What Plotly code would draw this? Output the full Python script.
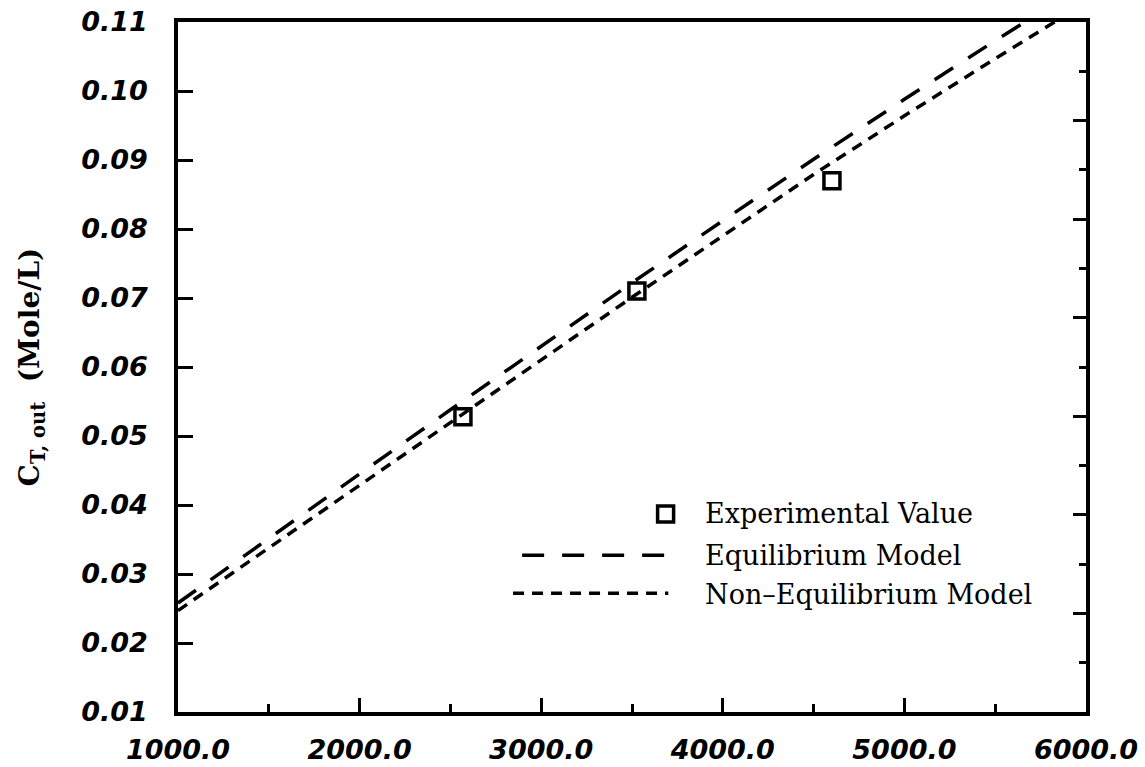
import plotly.graph_objects as go

# Total flow (x) versus outlet concentration C_T,out
flow = [1000, 1500, 2000, 2500, 3000, 3500, 4000, 4500, 5000, 5500, 6000]
equilibrium = [0.0258, 0.0352, 0.0445, 0.0538, 0.0630, 0.0722, 0.0812, 0.0901, 0.0988, 0.1073, 0.1155]
non_equilibrium = [0.0247, 0.0338, 0.0429, 0.0520, 0.0611, 0.0701, 0.0790, 0.0879, 0.0964, 0.1047, 0.1128]

exp_flow = [2569, 3527, 4601]
exp_conc = [0.0528, 0.0710, 0.0870]

x_ticks = [1000, 2000, 3000, 4000, 5000, 6000]
x_tick_text = ["1000.0", "2000.0", "3000.0", "4000.0", "5000.0", "6000.0"]
y_ticks = [0.01, 0.02, 0.03, 0.04, 0.05, 0.06, 0.07, 0.08, 0.09, 0.10, 0.11]
y_tick_text = ["0.01", "0.02", "0.03", "0.04", "0.05", "0.06", "0.07", "0.08", "0.09", "0.10", "0.11"]

legend_names = ["Experimental Value", "Equilibrium Model", "Non\u2013Equilibrium Model"]

tick_font = dict(family="DejaVu Sans", size=27, color="black", weight="bold", style="italic")
serif = "DejaVu Serif"

square = dict(symbol="square-open", size=16, color="black", line=dict(width=3.5, color="black"))
eq_line = dict(color="black", width=3.5, dash="22px,18px")
neq_line = dict(color="black", width=3.5, dash="11px,8px")

fig = go.Figure()

fig.add_trace(go.Scatter(x=exp_flow, y=exp_conc, mode="markers", name=legend_names[0], marker=square))
fig.add_trace(go.Scatter(x=flow, y=equilibrium, mode="lines", name=legend_names[1], line=eq_line))
fig.add_trace(go.Scatter(x=flow, y=non_equilibrium, mode="lines", name=legend_names[2], line=neq_line))

# invisible trace carrying the right-hand frame ticks
fig.add_trace(go.Scatter(x=[1000], y=[0], yaxis="y2", mode="markers",
                         marker=dict(opacity=0), showlegend=False, hoverinfo="skip"))

# legend keys, drawn on a unit overlay axis pair (x3 / y3)
fig.add_trace(go.Scatter(x=[0.537], y=[0.287], xaxis="x3", yaxis="y3", mode="markers",
                         marker=square, showlegend=False, hoverinfo="skip"))
fig.add_trace(go.Scatter(x=[0.379, 0.540], y=[0.227, 0.227], xaxis="x3", yaxis="y3", mode="lines",
                         line=eq_line, showlegend=False, hoverinfo="skip"))
fig.add_trace(go.Scatter(x=[0.369, 0.540], y=[0.172, 0.172], xaxis="x3", yaxis="y3", mode="lines",
                         line=neq_line, showlegend=False, hoverinfo="skip"))
for name, yy in zip(legend_names, [0.287, 0.227, 0.170]):
    fig.add_annotation(text=name, x=0.578, y=yy, xref="x3", yref="y3",
                       xanchor="left", yanchor="middle", showarrow=False,
                       font=dict(family=serif, size=27, color="black"))

fig.update_layout(
    width=1145, height=767,
    margin=dict(l=178, r=59, t=22, b=55),
    paper_bgcolor="white", plot_bgcolor="white",
    showlegend=False,
    xaxis=dict(
        range=[1000, 6000], tickvals=x_ticks, ticktext=x_tick_text,
        ticks="inside", ticklen=14, tickwidth=3, tickcolor="black",
        minor=dict(dtick=500, tick0=1000, ticks="inside", ticklen=8, tickwidth=3, tickcolor="black"),
        showline=True, linewidth=3.5, linecolor="black", mirror=True,
        showgrid=False, zeroline=False, tickfont=tick_font, ticklabelstandoff=11,
        automargin=False,
    ),
    yaxis=dict(
        range=[0.01, 0.11], tickvals=y_ticks, ticktext=y_tick_text,
        ticks="inside", ticklen=15, tickwidth=3, tickcolor="black",
        showline=True, linewidth=3.5, linecolor="black", mirror=True,
        showgrid=False, zeroline=False, tickfont=tick_font, ticklabelstandoff=21,
        automargin=False,
        title=dict(text="C<sub>T, out</sub>  (Mole/L)",
                   font=dict(family=serif, size=28, color="black", weight="bold"), standoff=34),
    ),
    yaxis2=dict(
        overlaying="y", side="right", range=[0, 14], dtick=2, tick0=0,
        ticks="inside", ticklen=13, tickwidth=3, tickcolor="black",
        minor=dict(dtick=1, ticks="inside", ticklen=7, tickwidth=3, tickcolor="black"),
        showticklabels=False, showgrid=False, zeroline=False, showline=False,
        automargin=False,
    ),
    xaxis3=dict(overlaying="x", range=[0, 1], visible=False, automargin=False),
    yaxis3=dict(overlaying="y", range=[0, 1], visible=False, automargin=False),
)

fig.write_html("out.html")
